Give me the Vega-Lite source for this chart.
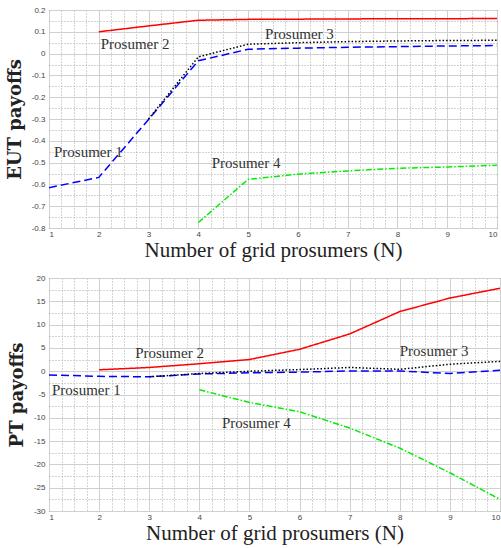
{
  "$schema": "https://vega.github.io/schema/vega-lite/v6.json",
  "background": "white",
  "padding": {"left": 5, "top": 5, "right": 2, "bottom": 1},
  "spacing": 12,
  "config": {
    "view": {"stroke": "#333", "strokeWidth": 1},
    "axis": {
      "labelFont": "Liberation Sans", "labelFontSize": 8, "labelColor": "#444",
      "domain": false, "ticks": false, "labelPadding": 4, "labelOverlap": false,
      "titleFont": "Liberation Serif", "titleColor": "#222"
    }
  },
  "datasets": {
    "eut": [
      {"N": 1, "p": "Prosumer 1", "v": -0.615},
      {"N": 2, "p": "Prosumer 1", "v": -0.568},
      {"N": 3, "p": "Prosumer 1", "v": -0.302},
      {"N": 4, "p": "Prosumer 1", "v": -0.033},
      {"N": 5, "p": "Prosumer 1", "v": 0.02},
      {"N": 6, "p": "Prosumer 1", "v": 0.025},
      {"N": 7, "p": "Prosumer 1", "v": 0.029},
      {"N": 8, "p": "Prosumer 1", "v": 0.032},
      {"N": 9, "p": "Prosumer 1", "v": 0.035},
      {"N": 10, "p": "Prosumer 1", "v": 0.037},
      {"N": 2, "p": "Prosumer 2", "v": 0.1},
      {"N": 3, "p": "Prosumer 2", "v": 0.127},
      {"N": 4, "p": "Prosumer 2", "v": 0.153},
      {"N": 5, "p": "Prosumer 2", "v": 0.157},
      {"N": 6, "p": "Prosumer 2", "v": 0.158},
      {"N": 7, "p": "Prosumer 2", "v": 0.159},
      {"N": 8, "p": "Prosumer 2", "v": 0.16},
      {"N": 9, "p": "Prosumer 2", "v": 0.16},
      {"N": 10, "p": "Prosumer 2", "v": 0.161},
      {"N": 3, "p": "Prosumer 3", "v": -0.3},
      {"N": 4, "p": "Prosumer 3", "v": -0.015},
      {"N": 5, "p": "Prosumer 3", "v": 0.043},
      {"N": 6, "p": "Prosumer 3", "v": 0.05},
      {"N": 7, "p": "Prosumer 3", "v": 0.055},
      {"N": 8, "p": "Prosumer 3", "v": 0.058},
      {"N": 9, "p": "Prosumer 3", "v": 0.06},
      {"N": 10, "p": "Prosumer 3", "v": 0.061},
      {"N": 4, "p": "Prosumer 4", "v": -0.775},
      {"N": 5, "p": "Prosumer 4", "v": -0.577},
      {"N": 6, "p": "Prosumer 4", "v": -0.553},
      {"N": 7, "p": "Prosumer 4", "v": -0.538},
      {"N": 8, "p": "Prosumer 4", "v": -0.526},
      {"N": 9, "p": "Prosumer 4", "v": -0.52},
      {"N": 10, "p": "Prosumer 4", "v": -0.512}
    ],
    "pt": [
      {"N": 1, "p": "Prosumer 1", "v": -0.8},
      {"N": 2, "p": "Prosumer 1", "v": -1.1},
      {"N": 3, "p": "Prosumer 1", "v": -1.2},
      {"N": 4, "p": "Prosumer 1", "v": -0.6},
      {"N": 5, "p": "Prosumer 1", "v": -0.35},
      {"N": 6, "p": "Prosumer 1", "v": -0.2},
      {"N": 7, "p": "Prosumer 1", "v": 0.05},
      {"N": 8, "p": "Prosumer 1", "v": 0.05},
      {"N": 9, "p": "Prosumer 1", "v": -0.5},
      {"N": 10, "p": "Prosumer 1", "v": 0.2},
      {"N": 2, "p": "Prosumer 2", "v": 0.3},
      {"N": 3, "p": "Prosumer 2", "v": 0.8},
      {"N": 4, "p": "Prosumer 2", "v": 1.6},
      {"N": 5, "p": "Prosumer 2", "v": 2.5},
      {"N": 6, "p": "Prosumer 2", "v": 4.7},
      {"N": 7, "p": "Prosumer 2", "v": 8.0},
      {"N": 8, "p": "Prosumer 2", "v": 12.8},
      {"N": 9, "p": "Prosumer 2", "v": 15.7},
      {"N": 10, "p": "Prosumer 2", "v": 17.8},
      {"N": 3, "p": "Prosumer 3", "v": -1.2},
      {"N": 4, "p": "Prosumer 3", "v": -0.5},
      {"N": 5, "p": "Prosumer 3", "v": 0.0},
      {"N": 6, "p": "Prosumer 3", "v": 0.35},
      {"N": 7, "p": "Prosumer 3", "v": 0.8},
      {"N": 8, "p": "Prosumer 3", "v": 0.4},
      {"N": 9, "p": "Prosumer 3", "v": 1.5},
      {"N": 10, "p": "Prosumer 3", "v": 2.1},
      {"N": 4, "p": "Prosumer 4", "v": -4.0},
      {"N": 5, "p": "Prosumer 4", "v": -6.7},
      {"N": 6, "p": "Prosumer 4", "v": -8.7},
      {"N": 7, "p": "Prosumer 4", "v": -12.2},
      {"N": 8, "p": "Prosumer 4", "v": -16.5},
      {"N": 9, "p": "Prosumer 4", "v": -21.8},
      {"N": 10, "p": "Prosumer 4", "v": -27.5}
    ],
    "eutLabels": [
      {"N": 1.1, "v": -0.45, "label": "Prosumer 1"},
      {"N": 2.04, "v": 0.046, "label": "Prosumer 2"},
      {"N": 5.34, "v": 0.088, "label": "Prosumer 3"},
      {"N": 4.27, "v": -0.5, "label": "Prosumer 4"}
    ],
    "ptLabels": [
      {"N": 1.06, "v": -4.0, "label": "Prosumer 1"},
      {"N": 2.72, "v": 3.8, "label": "Prosumer 2"},
      {"N": 8.0, "v": 4.3, "label": "Prosumer 3"},
      {"N": 4.45, "v": -11.1, "label": "Prosumer 4"}
    ]
  },
  "vconcat": [
    {
      "width": 448,
      "height": 218,
      "encoding": {
        "x": {
          "field": "N", "type": "quantitative",
          "scale": {"domain": [1, 10], "nice": false, "zero": false},
          "axis": {
            "values": [1,1.25,1.5,1.75,2,2.25,2.5,2.75,3,3.25,3.5,3.75,4,4.25,4.5,4.75,5,5.25,5.5,5.75,6,6.25,6.5,6.75,7,7.25,7.5,7.75,8,8.25,8.5,8.75,9,9.25,9.5,9.75,10],
            "labelExpr": "datum.value % 1 == 0 ? format(datum.value, 'd') : ''",
            "gridDash": {"condition": {"test": "datum.value % 1 == 0", "value": []}, "value": [1, 2]},
            "gridColor": {"condition": {"test": "datum.value % 1 == 0", "value": "#d0d0d0"}, "value": "#a8a8a8"},
            "labelPadding": 2,
            "title": "Number of grid prosumers (N)",
            "titleFontSize": 21, "titleFontWeight": "normal", "titlePadding": 1
          }
        },
        "y": {
          "field": "v", "type": "quantitative",
          "scale": {"domain": [-0.8, 0.2], "nice": false, "zero": false},
          "axis": {
            "values": [-0.8,-0.75,-0.7,-0.65,-0.6,-0.55,-0.5,-0.45,-0.4,-0.35,-0.3,-0.25,-0.2,-0.15,-0.1,-0.05,0,0.05,0.1,0.15,0.2],
            "labelExpr": "abs(datum.value*10 - round(datum.value*10)) < 0.001 ? replace(format(datum.value, '~g'), '\u2212', '-') : ''",
            "gridDash": {"condition": {"test": "abs(datum.value*10 - round(datum.value*10)) < 0.001", "value": []}, "value": [1, 2]},
            "gridColor": {"condition": {"test": "abs(datum.value*10 - round(datum.value*10)) < 0.001", "value": "#d0d0d0"}, "value": "#a8a8a8"},
            "title": "EUT payoffs",
            "titleFont": "DejaVu Serif",
            "titleFontSize": 18, "titleFontWeight": "bold", "titlePadding": 7
          }
        }
      },
      "layer": [
        {
          "data": {"name": "eut"},
          "mark": {"type": "line", "strokeWidth": 1.5, "clip": true},
          "encoding": {
            "color": {
              "field": "p", "type": "nominal", "legend": null,
              "scale": {"domain": ["Prosumer 1", "Prosumer 2", "Prosumer 3", "Prosumer 4"], "range": ["#0000ff", "#ff0000", "#000000", "#00ee00"]}
            },
            "strokeDash": {
              "field": "p", "type": "nominal", "legend": null,
              "scale": {"domain": ["Prosumer 1", "Prosumer 2", "Prosumer 3", "Prosumer 4"], "range": [[8, 4], [1, 0], [1.5, 2], [6, 2, 1.5, 2]]}
            }
          }
        },
        {
          "data": {"name": "eutLabels"},
          "mark": {"type": "text", "align": "left", "baseline": "middle", "font": "Liberation Serif", "fontSize": 15, "color": "#333"},
          "encoding": {
            "text": {"field": "label"}
          }
        }
      ]
    },
    {
      "width": 451,
      "height": 233,
      "encoding": {
        "x": {
          "field": "N", "type": "quantitative",
          "scale": {"domain": [1, 10], "nice": false, "zero": false},
          "axis": {
            "values": [1,1.25,1.5,1.75,2,2.25,2.5,2.75,3,3.25,3.5,3.75,4,4.25,4.5,4.75,5,5.25,5.5,5.75,6,6.25,6.5,6.75,7,7.25,7.5,7.75,8,8.25,8.5,8.75,9,9.25,9.5,9.75,10],
            "labelExpr": "datum.value % 1 == 0 ? format(datum.value, 'd') : ''",
            "gridDash": {"condition": {"test": "datum.value % 1 == 0", "value": []}, "value": [1, 2]},
            "gridColor": {"condition": {"test": "datum.value % 1 == 0", "value": "#d0d0d0"}, "value": "#a8a8a8"},
            "labelPadding": 2,
            "title": "Number of grid prosumers (N)",
            "titleFontSize": 21, "titleFontWeight": "normal", "titlePadding": 1
          }
        },
        "y": {
          "field": "v", "type": "quantitative",
          "scale": {"domain": [-30, 20], "nice": false, "zero": false},
          "axis": {
            "values": [-30,-27.5,-25,-22.5,-20,-17.5,-15,-12.5,-10,-7.5,-5,-2.5,0,2.5,5,7.5,10,12.5,15,17.5,20],
            "labelExpr": "datum.value % 5 == 0 ? replace(format(datum.value, '~g'), '\u2212', '-') : ''",
            "gridDash": {"condition": {"test": "datum.value % 5 == 0", "value": []}, "value": [1, 2]},
            "gridColor": {"condition": {"test": "datum.value % 5 == 0", "value": "#d0d0d0"}, "value": "#a8a8a8"},
            "title": "PT payoffs",
            "titleFont": "DejaVu Serif",
            "titleFontSize": 18, "titleFontWeight": "bold", "titlePadding": 7
          }
        }
      },
      "layer": [
        {
          "data": {"name": "pt"},
          "mark": {"type": "line", "strokeWidth": 1.5, "clip": true},
          "encoding": {
            "color": {
              "field": "p", "type": "nominal", "legend": null,
              "scale": {"domain": ["Prosumer 1", "Prosumer 2", "Prosumer 3", "Prosumer 4"], "range": ["#0000ff", "#ff0000", "#000000", "#00ee00"]}
            },
            "strokeDash": {
              "field": "p", "type": "nominal", "legend": null,
              "scale": {"domain": ["Prosumer 1", "Prosumer 2", "Prosumer 3", "Prosumer 4"], "range": [[8, 4], [1, 0], [1.5, 2], [6, 2, 1.5, 2]]}
            }
          }
        },
        {
          "data": {"name": "ptLabels"},
          "mark": {"type": "text", "align": "left", "baseline": "middle", "font": "Liberation Serif", "fontSize": 15, "color": "#333"},
          "encoding": {
            "text": {"field": "label"}
          }
        }
      ]
    }
  ]
}
